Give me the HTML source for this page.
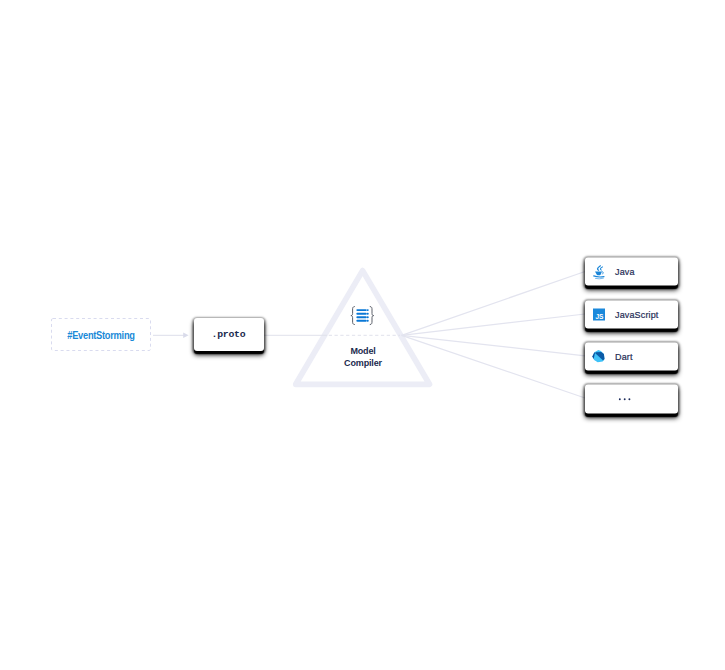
<!DOCTYPE html>
<html><head><meta charset="utf-8">
<style>
html,body{margin:0;padding:0;background:#fff;}
body{width:725px;height:670px;position:relative;overflow:hidden;font-family:"Liberation Sans",sans-serif;}
svg.bg{position:absolute;left:0;top:0;}
.es{position:absolute;left:51px;top:318px;width:100px;height:33px;box-sizing:border-box;}
.es span{position:absolute;left:0;right:0;top:11.6px;text-align:center;color:#1a8ad8;font-weight:bold;font-size:10px;line-height:12px;letter-spacing:-0.3px;transform:scaleX(0.93);}
.card{position:absolute;background:#fff;border-radius:3px;box-shadow:0 1px 2px 2px rgba(0,0,0,.35),0 3px 1px #000,0 4px 5px 0 rgba(0,0,0,.9);}
.proto{left:194px;top:318px;width:70px;height:33px;}
.proto span{position:absolute;left:-1.2px;right:0;top:10.4px;text-align:center;font-family:"Liberation Mono",monospace;font-weight:bold;font-size:9.8px;line-height:14px;color:#1b2a4e;letter-spacing:-0.25px;}
.lang{left:585px;width:93px;height:28px;transform:translateY(0.5px);}
.lang .t{position:absolute;left:30px;top:8px;font-size:9px;line-height:12px;color:#1f2d55;letter-spacing:0.15px;-webkit-text-stroke:0.2px #1f2d55;}
.mc{position:absolute;left:330px;top:345px;width:66px;text-align:center;font-weight:bold;font-size:9px;line-height:12px;color:#1b2a4e;letter-spacing:-0.15px;}
.ic{position:absolute;left:0;top:-0.5px;}
</style></head><body>
<svg class="bg" width="725" height="670" viewBox="0 0 725 670">
  <!-- dashed #EventStorming border -->
  <rect x="51.5" y="318.5" width="99" height="32" rx="1.5" fill="none" stroke="#d9dbef" stroke-width="1" stroke-dasharray="3 2.8"/>
  <!-- arrow -->
  <line x1="153" y1="335.3" x2="184" y2="335.3" stroke="#dcdeea" stroke-width="1"/>
  <path d="M183.2 332.6 L188.6 335.3 L183.2 338 Z" fill="#d9dbea"/>
  <!-- triangle -->
  <path d="M362.6 270.6 L429.5 384.3 L295.75 384.3 Z" fill="none" stroke="#ecedf6" stroke-width="5.7" stroke-linejoin="round"/>
  <!-- line from proto to triangle -->
  <line x1="264" y1="335.3" x2="327" y2="335.3" stroke="#e0e1ec" stroke-width="1"/>
  <line x1="328.7" y1="335.3" x2="400" y2="335.3" stroke="#e0e1ec" stroke-width="1" stroke-dasharray="3.3 2.5"/>
  <!-- fan lines -->
  <g stroke="#e3e4ef" stroke-width="1.25" fill="none">
    <line x1="401.6" y1="335.3" x2="585" y2="271.5"/>
    <line x1="401.6" y1="335.3" x2="585" y2="314"/>
    <line x1="401.6" y1="335.3" x2="585" y2="355.8"/>
    <line x1="401.6" y1="335.3" x2="585" y2="398"/>
  </g>
  <!-- braces icon -->
  <g fill="none" stroke="#4a4f5a" stroke-width="0.9">
    <path d="M354.8 306.5 C352.5 306.8 352.6 308 352.6 310 L352.6 313.5 C352.6 315 352 315.5 350.9 315.6 C352 315.7 352.6 316.2 352.6 317.7 L352.6 321 C352.6 323 352.5 324.3 354.8 324.6"/>
    <path d="M369.8 306.5 C372.1 306.8 372 308 372 310 L372 313.5 C372 315 372.6 315.5 373.7 315.6 C372.6 315.7 372 316.2 372 317.7 L372 321 C372 323 372.1 324.3 369.8 324.6"/>
  </g>
  <g stroke="#0a78d6" stroke-width="1.9" stroke-linecap="round">
    <line x1="357.3" y1="310.1" x2="365.8" y2="310.1"/>
    <line x1="357.3" y1="313.8" x2="365.8" y2="313.8"/>
    <line x1="357.3" y1="317.2" x2="365.8" y2="317.2"/>
    <line x1="357.3" y1="320.8" x2="365.8" y2="320.8"/>
    <line x1="367.6" y1="310.1" x2="367.8" y2="310.1"/>
    <line x1="367.6" y1="313.8" x2="367.8" y2="313.8"/>
    <line x1="367.6" y1="317.2" x2="367.8" y2="317.2"/>
    <line x1="367.6" y1="320.8" x2="367.8" y2="320.8"/>
  </g>
</svg>

<div class="es"><span>#EventStorming</span></div>
<div class="card proto"><span>.proto</span></div>
<div class="mc">Model<br>Compiler</div>

<div class="card lang" style="top:257px;">
  <svg class="ic" width="93" height="28" viewBox="0 0 93 28">
    <g fill="none" stroke="#1a86d8" stroke-linecap="round" stroke-linejoin="round">
      <path d="M15.4 8.3 Q12.6 10.2 12.5 11.4 Q12.6 12.3 13.6 12.8" stroke-width="1.25"/>
      <path d="M17.5 9.4 Q15.4 10.6 15.3 11.5 Q15.4 12.2 16.3 12.6" stroke-width="1.05"/>
      <path d="M17.3 14.2 Q19.2 14.3 17.6 16.5" stroke-width="0.85"/>
      <path d="M8.7 18.4 Q13.5 20.2 19 19.1" stroke-width="1.15"/>
      <path d="M10.4 20.9 Q14 22 18.4 20.7" stroke-width="0.8" stroke="#5aaae8"/>
    </g>
    <path d="M10 13.9 L17 13.9 L15.6 17.3 Q15.3 17.7 14.8 17.7 L12.6 17.7 Q12 17.7 11.8 17.3 Z" fill="#1a86d8"/>
  </svg>
  <span class="t">Java</span>
</div>
<div class="card lang" style="top:300px;">
  <svg class="ic" width="93" height="28" viewBox="0 0 93 28">
    <rect x="8" y="8" width="12" height="12" fill="#1a88db"/>
    <text transform="translate(18.1 18.5) scale(0.82 1)" text-anchor="end" font-family="Liberation Sans" font-weight="bold" font-size="8" fill="#fff" letter-spacing="-0.3">JS</text>
  </svg>
  <span class="t">JavaScript</span>
</div>
<div class="card lang" style="top:342px;">
  <svg class="ic" width="93" height="28" viewBox="0 0 93 28">
    <path d="M13.4 7.5 L15.9 8.5 L18.9 11.5 L19.5 16.5 L17.7 18.9 L12.7 19.8 L9.1 17.4 L7.4 14.1 L9.4 9.7 Z" fill="#3fc2f8"/>
    <path d="M10 10.4 L10.8 9.7 L16.2 9.6 L18.9 11.5 L19.5 16.5 L18.1 18.1 Z" fill="#0b5aa6"/>
    <path d="M7.4 14.1 L9.4 9.7 L10 10.5 L8.6 16.4 Z" fill="#0c4e9a"/>
  </svg>
  <span class="t">Dart</span>
</div>
<div class="card lang" style="top:384px;height:29px;">
  <svg class="ic" width="93" height="29" viewBox="0 0 93 29">
    <g fill="#1b2a5a">
      <circle cx="34.8" cy="14.8" r="0.95"/>
      <circle cx="39.7" cy="14.8" r="0.95"/>
      <circle cx="44.4" cy="14.8" r="0.95"/>
    </g>
  </svg>
</div>
</body></html>
